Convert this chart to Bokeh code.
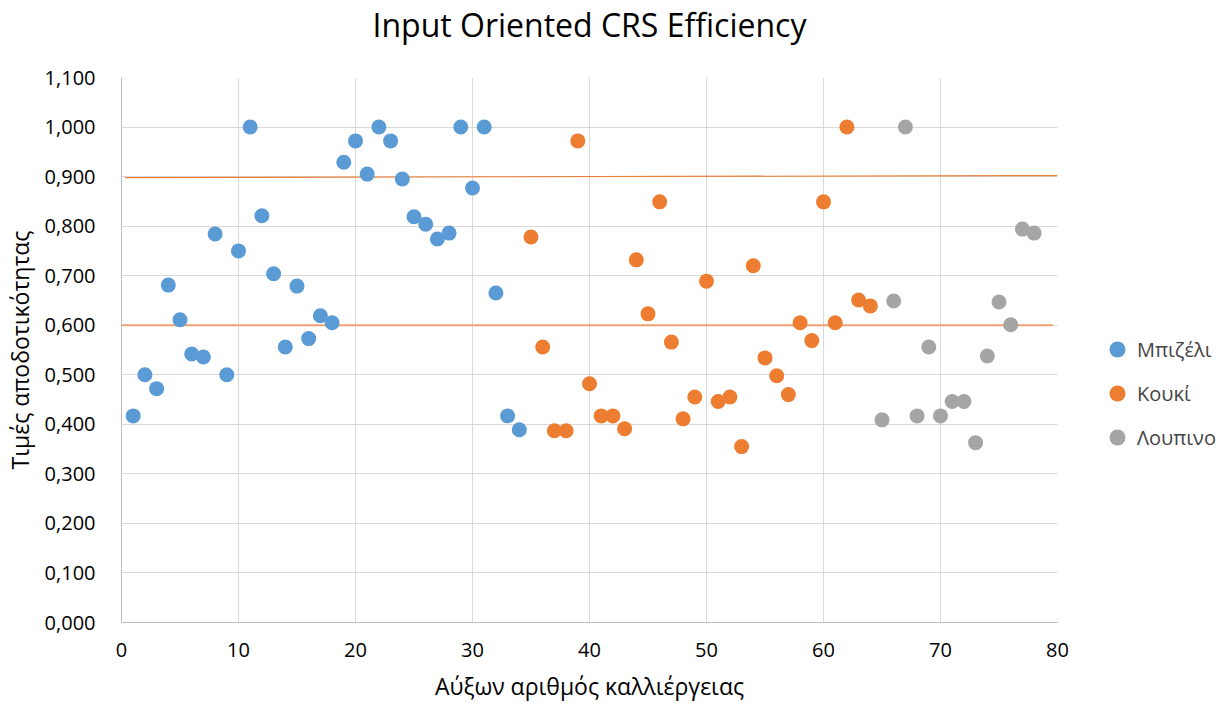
from bokeh.plotting import figure
from bokeh.models import (Legend, LegendItem, FixedTicker, CustomJSTickFormatter, Title)
from bokeh.embed import file_html
from bokeh.resources import INLINE

# ---- data ----
pea_x = list(range(1, 35))
pea_y = [0.417, 0.500, 0.472, 0.681, 0.611, 0.542, 0.536, 0.784, 0.500, 0.750,
         1.000, 0.821, 0.704, 0.556, 0.679, 0.573, 0.619, 0.605, 0.929, 0.972,
         0.905, 1.000, 0.972, 0.895, 0.819, 0.804, 0.774, 0.786, 1.000, 0.877,
         1.000, 0.665, 0.417, 0.389]
bean_x = list(range(35, 65))
bean_y = [0.778, 0.556, 0.387, 0.387, 0.972, 0.482, 0.417, 0.417, 0.391, 0.732,
          0.623, 0.849, 0.566, 0.411, 0.455, 0.689, 0.446, 0.455, 0.355, 0.720,
          0.534, 0.498, 0.460, 0.605, 0.569, 0.849, 0.605, 1.000, 0.651, 0.639]
lupin_x = list(range(65, 79))
lupin_y = [0.409, 0.649, 1.000, 0.417, 0.556, 0.417, 0.446, 0.446, 0.363, 0.538,
           0.647, 0.601, 0.794, 0.786]
series_names = ["Μπιζέλι", "Κουκί", "Λουπινο"]
threshold_hi_x = [0.3, 80]
threshold_hi_y = [0.898, 0.902]
threshold_lo_x = [0, 79.6]
threshold_lo_y = [0.6, 0.6]
x_ticks = [0, 10, 20, 30, 40, 50, 60, 70, 80]
y_ticks = [0.0, 0.1, 0.2, 0.3, 0.4, 0.5, 0.6, 0.7, 0.8, 0.9, 1.0, 1.1]
title_text = "Input Oriented CRS Efficiency"
x_label = "Αύξων αριθμός καλλιέργειας"
y_label = "Τιμές αποδοτικότητας"

FONT = "Open Sans"
BLUE, ORANGE, GREY = "#5B9BD5", "#ED7D31", "#A5A5A5"

p = figure(frame_width=936, frame_height=545, output_backend="svg", toolbar_location=None,
           x_range=(0, 80), y_range=(0, 1.1),
           min_border_left=121, min_border_right=20, min_border_top=0, min_border_bottom=80)
p.title.text = title_text
p.title.align = "center"
p.title.offset = 16
p.title.standoff = 0
p.title.text_font = FONT
p.title.text_font_size = "32px"
p.title.text_font_style = "normal"
p.title.text_color = "#000000"
spacer = Title(text=" ", text_font_size="18px")
p.above = [spacer] + list(p.above)
p.outline_line_color = None

for ax in (p.xaxis[0], p.yaxis[0]):
    ax.major_tick_line_color = None
    ax.minor_tick_line_color = None
    ax.axis_line_color = "#BFBFBF"
    ax.major_label_text_font = FONT
    ax.major_label_text_font_size = "20px"
    ax.major_label_text_color = "#000000"
    ax.axis_label_text_font = FONT
    ax.axis_label_text_font_size = "23px"
    ax.axis_label_text_font_style = "normal"
    ax.axis_label_text_color = "#000000"

p.xaxis.ticker = FixedTicker(ticks=x_ticks)
p.yaxis.ticker = FixedTicker(ticks=y_ticks)
p.yaxis.formatter = CustomJSTickFormatter(code="return tick.toFixed(3).replace('.', ',');")
p.xaxis.axis_label = x_label
p.yaxis.axis_label = y_label
p.xaxis.major_label_standoff = 14
p.yaxis.major_label_standoff = 20
p.xaxis.axis_label_standoff = 10
p.yaxis.axis_label_standoff = 6

p.xgrid.ticker = FixedTicker(ticks=x_ticks)
p.ygrid.ticker = FixedTicker(ticks=y_ticks)
p.xgrid.grid_line_color = "#D9D9D9"
p.ygrid.grid_line_color = "#D9D9D9"
p.xgrid.grid_line_width = 1
p.ygrid.grid_line_width = 1

p.line(threshold_hi_x, threshold_hi_y, line_color=ORANGE, line_width=1.2)
p.line(threshold_lo_x, threshold_lo_y, line_color="#F0A070", line_width=2)

r1 = p.scatter(pea_x, pea_y, size=15, fill_color=BLUE, line_color=None)
r2 = p.scatter(bean_x, bean_y, size=15, fill_color=ORANGE, line_color=None)
r3 = p.scatter(lupin_x, lupin_y, size=15, fill_color=GREY, line_color=None)

legend = Legend(items=[LegendItem(label=series_names[0], renderers=[r1]),
                       LegendItem(label=series_names[1], renderers=[r2]),
                       LegendItem(label=series_names[2], renderers=[r3])],
                location=(40, 165), orientation="vertical",
                background_fill_alpha=0, border_line_color=None,
                label_text_font=FONT, label_text_font_size="20px",
                glyph_width=40, glyph_height=40, label_height=40,
                spacing=4, padding=0, margin=0, label_standoff=-17)
p.add_layout(legend, "right")

open("out.html", "w").write(file_html(p, INLINE))
